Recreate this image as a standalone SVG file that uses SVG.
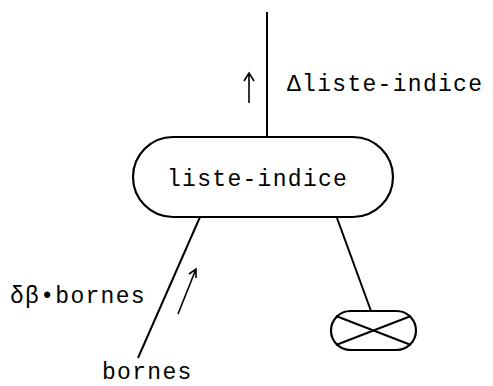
<svg xmlns="http://www.w3.org/2000/svg" width="493" height="386" viewBox="0 0 493 386">
<style>
.ln{stroke:#000;stroke-width:2;fill:none}
.nd{stroke:#000;stroke-width:2.2;fill:#fff}
.t{font-family:"Liberation Mono","DejaVu Sans Mono",monospace;font-size:23px;letter-spacing:1.3px;fill:#000}
.ar{stroke:#000;stroke-width:1.6;fill:none}
</style>
<rect width="493" height="386" fill="#fff"/>
<g id="connectors">
<line class="ln" x1="267" y1="12" x2="267" y2="138"/>
<line class="ln" x1="200" y1="217" x2="138" y2="358"/>
<line class="ln" x1="337" y1="218" x2="371" y2="311"/>
<path class="ar" d="M249 103 V73 M244 81 L249 73 L254 81"/>
<path class="ar" d="M178 314 L196 269 M189 274 L196 269 L196 278"/>
<text class="t" x="287" y="91">Δliste-indice</text>
<text class="t" x="10" y="303">δβ•bornes</text>
</g>
<g id="liste-indice">
<rect class="nd" x="133" y="137" width="260" height="80" rx="40"/>
<text class="t" x="167" y="186">liste-indice</text>
</g>
<g id="bornes">
<text class="t" x="102" y="379">bornes</text>
</g>
<g id="terminal">
<rect class="nd" x="331" y="311" width="85" height="39" rx="19.5"/>
<path class="ln" d="M336 316 L411 345 M336 345 L411 316"/>
</g>
</svg>
